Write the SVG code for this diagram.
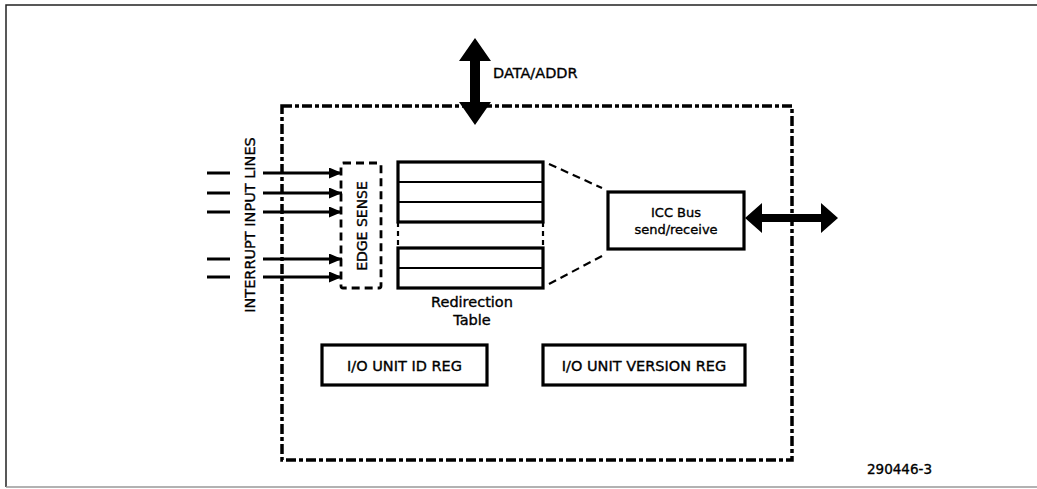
<svg xmlns="http://www.w3.org/2000/svg" width="1037" height="489" viewBox="0 0 1037 489">
<defs>
<style>
.t{font-family:"DejaVu Sans","Liberation Sans",sans-serif;fill:#000;stroke:#000;stroke-width:0.35;}
.box{fill:#fff;stroke:#000;stroke-width:3.2;}
.thin{stroke:#000;stroke-width:2.2;fill:none;}
.dash{stroke:#000;stroke-width:2.2;fill:none;stroke-dasharray:8 5;}
.ln{stroke:#000;stroke-width:3;fill:none;}
</style>
<marker id="ah" markerWidth="13" markerHeight="11" refX="13" refY="5.5" orient="auto" markerUnits="userSpaceOnUse">
<path d="M0,0 L13,5.5 L0,11 Z" fill="#000"/>
</marker>
</defs>
<rect width="1037" height="489" fill="#fff"/>
<!-- frame -->
<path d="M6,487 V5 H1037" fill="none" stroke="#222" stroke-width="1.5"/>
<path d="M6,487 H1037" fill="none" stroke="#999" stroke-width="1.5"/>

<g id="io-apic">
<rect x="282" y="106" width="510" height="354" fill="none" stroke="#000" stroke-width="3.5" stroke-dasharray="10 3 4 3"/>
</g>

<g id="edge-sense">
<rect x="341" y="163" width="40" height="125" rx="2" fill="none" stroke="#000" stroke-width="2.8" stroke-dasharray="8 5"/>
<text class="t" font-size="14" text-anchor="middle" transform="translate(367,226) rotate(-90)">EDGE SENSE</text>
</g>

<g id="redirection-table">
<rect class="box" x="398" y="162" width="145" height="60"/>
<line class="thin" x1="398" y1="182" x2="543" y2="182"/>
<line class="thin" x1="398" y1="202" x2="543" y2="202"/>
<rect class="box" x="398" y="248" width="145" height="40"/>
<line class="thin" x1="398" y1="268" x2="543" y2="268"/>
<line class="thin" x1="398" y1="222" x2="398" y2="248" stroke-dasharray="5 4"/>
<line class="thin" x1="543" y1="222" x2="543" y2="248" stroke-dasharray="5 4"/>
<text class="t" font-size="14.5" x="472" y="307" text-anchor="middle">Redirection</text>
<text class="t" font-size="14.5" x="472" y="325" text-anchor="middle">Table</text>
</g>

<g id="icc-bus">
<rect class="box" x="608" y="192" width="136" height="57"/>
<text class="t" font-size="13" x="676" y="217" text-anchor="middle">ICC Bus</text>
<text class="t" font-size="13" x="676" y="234" text-anchor="middle">send/receive</text>
</g>

<g id="id-reg">
<rect class="box" x="322" y="345" width="165" height="40"/>
<text class="t" font-size="14.5" x="404.5" y="371" text-anchor="middle">I/O UNIT ID REG</text>
</g>

<g id="version-reg">
<rect class="box" x="543" y="345" width="202" height="40"/>
<text class="t" font-size="14.5" x="644" y="371" text-anchor="middle">I/O UNIT VERSION REG</text>
</g>

<g id="interrupt-lines">
<text class="t" font-size="14.5" text-anchor="middle" transform="translate(255,225) rotate(-90)">INTERRUPT INPUT LINES</text>
</g>

<g id="connectors">
<!-- data/addr double arrow -->
<path d="M475,38 L491,61 L480,61 L480,102 L491,102 L475,125 L459,102 L470,102 L470,61 L459,61 Z" fill="#000"/>
<!-- ICC bus double arrow -->
<path d="M745,218 L762,203 L762,214 L821,214 L821,203 L838,218 L821,233 L821,222 L762,222 L762,233 Z" fill="#000"/>
<!-- table to ICC dashed -->
<line class="dash" x1="549" y1="164" x2="602" y2="188"/>
<line class="dash" x1="549" y1="284" x2="602" y2="256"/>
<!-- input stubs -->
<line class="ln" x1="207" y1="173" x2="230" y2="173"/>
<line class="ln" x1="207" y1="193" x2="230" y2="193"/>
<line class="ln" x1="207" y1="212" x2="230" y2="212"/>
<line class="ln" x1="207" y1="259" x2="230" y2="259"/>
<line class="ln" x1="207" y1="277" x2="230" y2="277"/>
<!-- input arrows -->
<line class="ln" x1="263" y1="173" x2="342" y2="173" marker-end="url(#ah)"/>
<line class="ln" x1="263" y1="193" x2="342" y2="193" marker-end="url(#ah)"/>
<line class="ln" x1="263" y1="212" x2="342" y2="212" marker-end="url(#ah)"/>
<line class="ln" x1="263" y1="259" x2="342" y2="259" marker-end="url(#ah)"/>
<line class="ln" x1="263" y1="277" x2="342" y2="277" marker-end="url(#ah)"/>
</g>

<text class="t" font-size="14.5" x="493" y="78">DATA/ADDR</text>
<text class="t" font-size="13.5" x="867" y="474">290446-3</text>
</svg>
